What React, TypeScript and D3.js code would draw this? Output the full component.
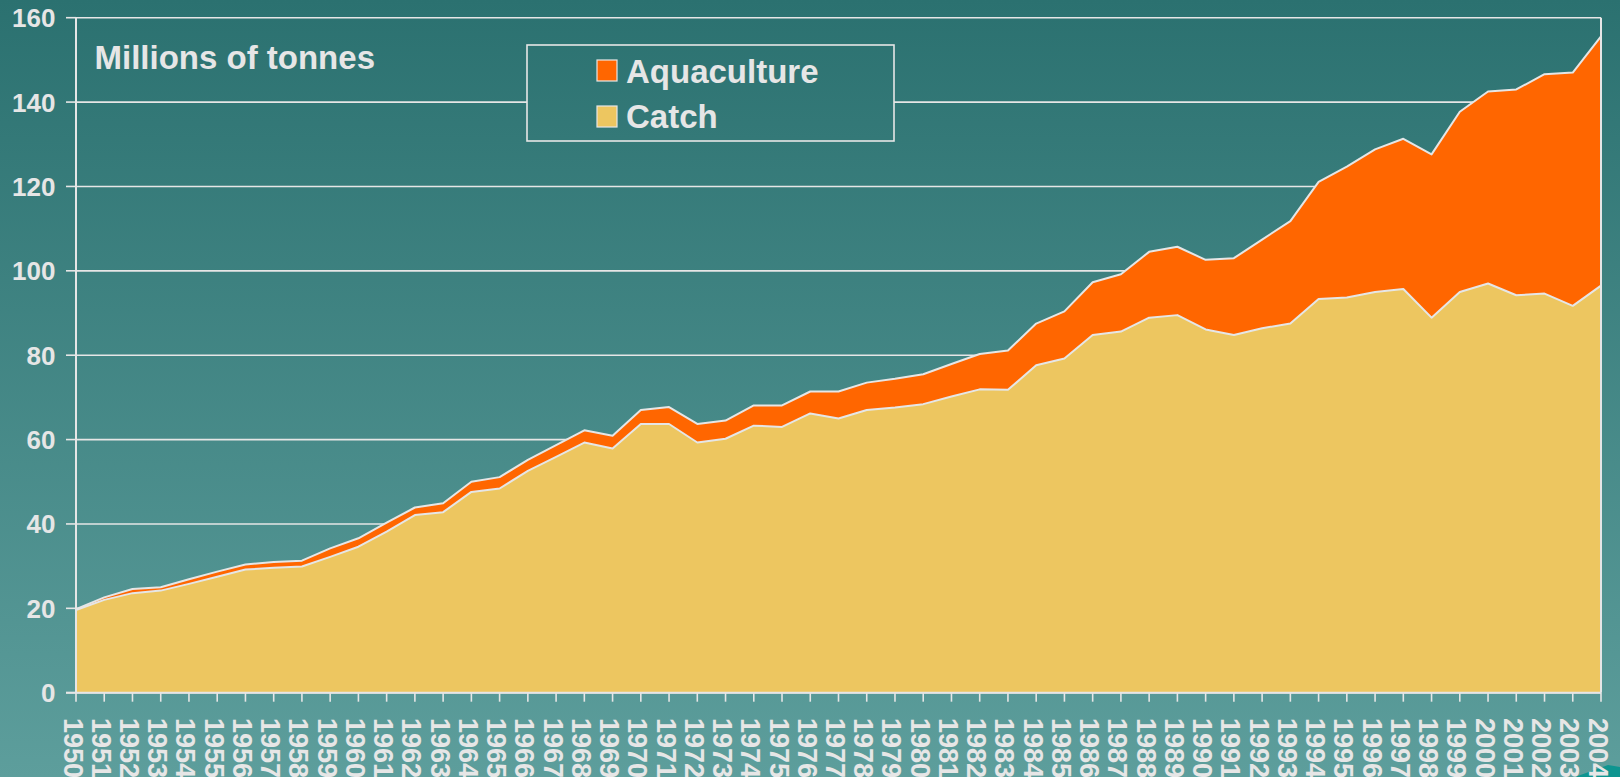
import React, { useEffect } from "react";
import * as d3 from "d3";

const years = [
  1950, 1951, 1952, 1953, 1954, 1955, 1956, 1957, 1958, 1959,
  1960, 1961, 1962, 1963, 1964, 1965, 1966, 1967, 1968, 1969,
  1970, 1971, 1972, 1973, 1974, 1975, 1976, 1977, 1978, 1979,
  1980, 1981, 1982, 1983, 1984, 1985, 1986, 1987, 1988, 1989,
  1990, 1991, 1992, 1993, 1994, 1995, 1996, 1997, 1998, 1999,
  2000, 2001, 2002, 2003, 2004,
];

const catchValues = [
  19.6, 22.0, 23.6, 24.2, 25.8, 27.5, 29.2, 29.6, 29.9, 32.2,
  34.6, 38.2, 42.1, 42.8, 47.6, 48.4, 52.6, 55.9, 59.3, 57.9,
  63.7, 63.7, 59.3, 60.2, 63.3, 63.0, 66.2, 65.0, 67.0, 67.6,
  68.4, 70.2, 71.9, 71.8, 77.6, 79.2, 84.8, 85.6, 88.9, 89.5,
  86.1, 84.8, 86.4, 87.5, 93.3, 93.7, 95.0, 95.7, 88.9, 95.0,
  97.0, 94.2, 94.6, 91.7, 96.5,
];

const aquacultureValues = [
  0.2, 0.6, 1.0, 0.8, 1.1, 1.2, 1.2, 1.4, 1.4, 2.0,
  2.0, 2.1, 1.8, 2.1, 2.4, 2.7, 2.6, 2.8, 2.9, 3.0,
  3.3, 4.0, 4.4, 4.3, 4.8, 5.1, 5.2, 6.4, 6.5, 6.8,
  7.1, 7.7, 8.4, 9.3, 9.9, 11.2, 12.5, 13.6, 15.6, 16.2,
  16.5, 18.2, 21.0, 24.3, 27.8, 31.0, 33.8, 35.6, 38.7, 42.7,
  45.5, 48.8, 52.0, 55.3, 59.1,
];

const yTicks = [0, 20, 40, 60, 80, 100, 120, 140, 160];
const seriesKeys = ["catch", "aquaculture"];
const seriesNames = ["Catch", "Aquaculture"];
const seriesColors = ["#EDC660", "#FF6600"];
const titleText = "Millions of tonnes";

const W = 1620;
const H = 777;
const LIGHT = "#E6E6E6";
const FONT = "'Liberation Sans', Arial, sans-serif";

export default function App() {
  useEffect(() => {
    document.body.style.margin = "0";
    document.body.style.overflow = "hidden";
  }, []);

  const table = years.map((yr, i) => ({
    year: yr,
    catch: catchValues[i],
    aquaculture: aquacultureValues[i],
  }));

  const x = d3.scaleLinear().domain([1950, 2004]).range([76, 1601]);
  const y = d3.scaleLinear().domain([0, 160]).range([692.7, 17.7]);

  const stacked = d3.stack<any>().keys(seriesKeys)(table);

  const area = d3
    .area<any>()
    .x((d) => x(d.data.year))
    .y0((d) => y(d[0]))
    .y1((d) => y(d[1]));
  const topLine = d3
    .line<any>()
    .x((d) => x(d.data.year))
    .y((d) => y(d[1]));

  const x0 = x(1950);
  const x1 = x(2004);
  const yBase = y(0);

  return (
    <svg
      width={W}
      height={H}
      style={{ position: "absolute", left: 0, top: 0, display: "block" }}
      fontFamily={FONT}
    >
      <defs>
        <linearGradient id="bg" x1="0" y1="0" x2="0" y2={H} gradientUnits="userSpaceOnUse">
          <stop offset="0" stopColor="#2B7170" />
          <stop offset="1" stopColor="#5D9E9C" />
        </linearGradient>
      </defs>
      <rect x={0} y={0} width={W} height={H} fill="url(#bg)" />
      <polygon points="1575,777 1608,765 1620,767 1620,777" fill="#0E9590" />

      {/* gridlines */}
      {yTicks.map((t) => (
        <line
          key={"g" + t}
          x1={x0}
          x2={x1}
          y1={y(t)}
          y2={y(t)}
          stroke={LIGHT}
          strokeWidth={1.6}
        />
      ))}

      {/* areas */}
      {stacked.map((s, i) => (
        <path key={"a" + i} d={area(s) || ""} fill={seriesColors[i]} />
      ))}
      {stacked.map((s, i) => (
        <path
          key={"l" + i}
          d={topLine(s) || ""}
          fill="none"
          stroke={LIGHT}
          strokeWidth={2}
          strokeLinejoin="round"
        />
      ))}

      {/* axes and frame */}
      <line x1={x0} x2={x0} y1={y(160)} y2={yBase} stroke={LIGHT} strokeWidth={2} />
      <line x1={x1} x2={x1} y1={y(160)} y2={yBase} stroke={LIGHT} strokeWidth={2} />
      <line x1={x0 - 10} x2={x1} y1={yBase} y2={yBase} stroke={LIGHT} strokeWidth={2} />
      {yTicks.map((t) => (
        <line
          key={"yt" + t}
          x1={x0 - 10}
          x2={x0}
          y1={y(t)}
          y2={y(t)}
          stroke={LIGHT}
          strokeWidth={1.6}
        />
      ))}
      {years.map((yr) => (
        <line
          key={"xt" + yr}
          x1={x(yr)}
          x2={x(yr)}
          y1={yBase}
          y2={yBase + 9}
          stroke={LIGHT}
          strokeWidth={1.6}
        />
      ))}

      {/* tick labels */}
      {yTicks.map((t) => (
        <text
          key={"yl" + t}
          x={55.5}
          y={y(t) + 9.5}
          textAnchor="end"
          fontSize={26}
          fontWeight="bold"
          fill={LIGHT}
        >
          {t}
        </text>
      ))}
      {years.map((yr) => (
        <text
          key={"xl" + yr}
          transform={`translate(${x(yr) - 12.5},718) rotate(90)`}
          fontSize={27}
          fontWeight="bold"
          fill={LIGHT}
        >
          {yr}
        </text>
      ))}

      {/* title */}
      <text x={94.5} y={69.3} fontSize={33} fontWeight="bold" fill={LIGHT}>
        {titleText}
      </text>

      {/* legend */}
      <rect x={527} y={45} width={367} height={96} fill="url(#bg)" stroke={LIGHT} strokeWidth={1.6} />
      {[1, 0].map((si, row) => (
        <g key={"lg" + si}>
          <rect
            x={597}
            y={60 + row * 46}
            width={20}
            height={21}
            fill={seriesColors[si]}
            stroke={LIGHT}
            strokeWidth={1.2}
          />
          <text
            x={626}
            y={83.3 + row * 45}
            fontSize={33}
            fontWeight="bold"
            fill={LIGHT}
          >
            {seriesNames[si]}
          </text>
        </g>
      ))}
    </svg>
  );
}
